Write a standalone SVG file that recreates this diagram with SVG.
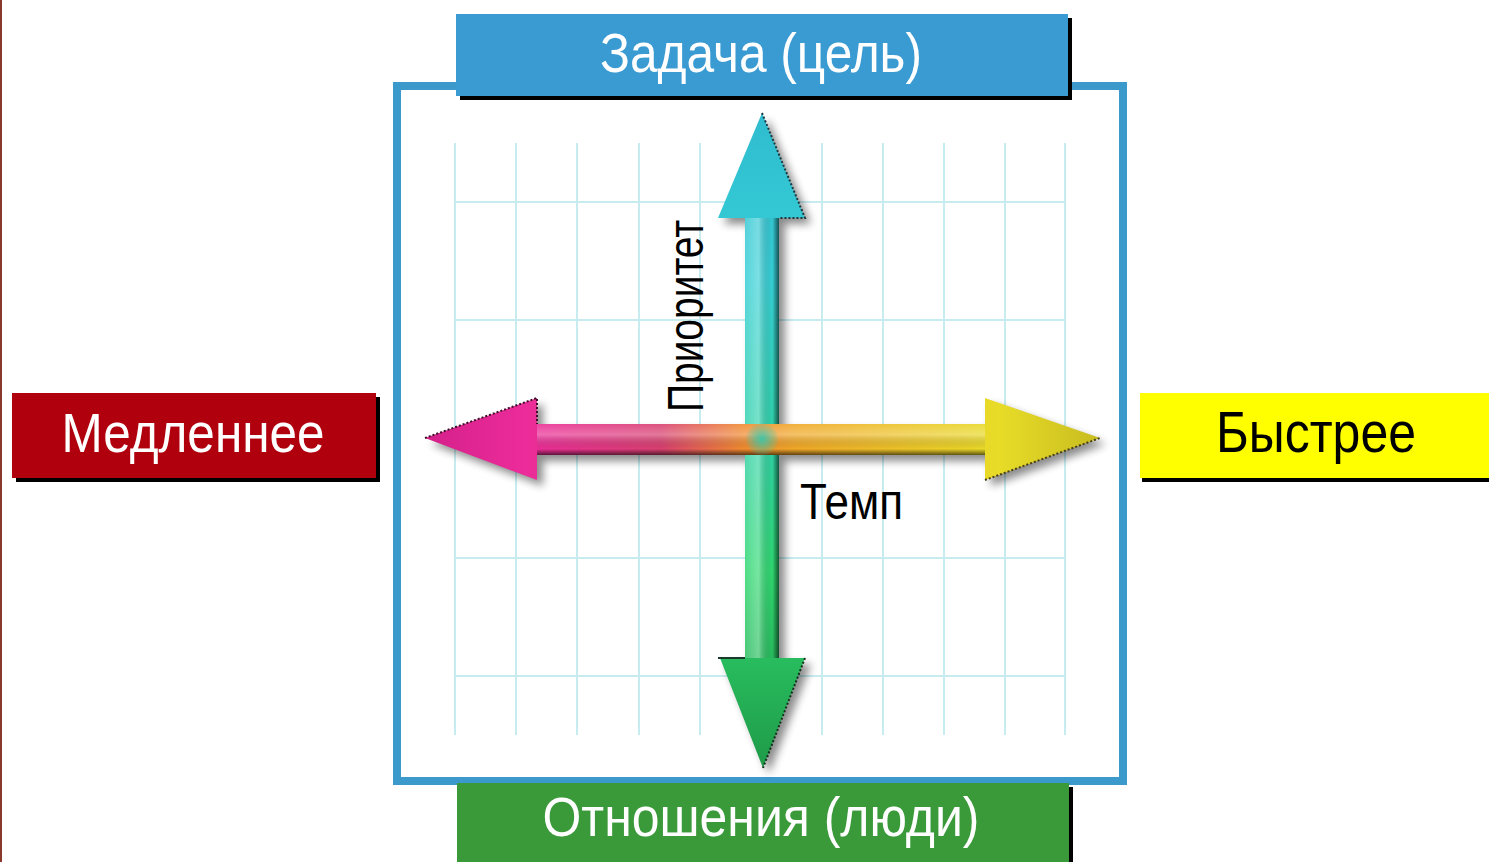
<svg xmlns="http://www.w3.org/2000/svg" width="1489" height="862" viewBox="0 0 1489 862">
<style>
.lbl{font-family:"Liberation Sans","DejaVu Sans",sans-serif;}
.grid line{stroke:#c6ecf0;stroke-width:2;}
.shadow{fill:#000;}
</style>
<defs>
<linearGradient id="gv" x1="0" y1="113" x2="0" y2="768" gradientUnits="userSpaceOnUse">
<stop offset="0" stop-color="#2fbcd0"/>
<stop offset="0.25" stop-color="#36cfd6"/>
<stop offset="0.5" stop-color="#30d2a8"/>
<stop offset="0.7" stop-color="#2fd870"/>
<stop offset="1" stop-color="#1f9a48"/>
</linearGradient>
<linearGradient id="gh" x1="425" y1="0" x2="1100" y2="0" gradientUnits="userSpaceOnUse">
<stop offset="0" stop-color="#d4208a"/>
<stop offset="0.15" stop-color="#ec2c9a"/>
<stop offset="0.35" stop-color="#d84070"/>
<stop offset="0.47" stop-color="#f08a30"/>
<stop offset="0.55" stop-color="#f0a828"/>
<stop offset="0.85" stop-color="#e8dc28"/>
<stop offset="1" stop-color="#c8bc20"/>
</linearGradient>
<linearGradient id="shaftShade" x1="745" y1="0" x2="779" y2="0" gradientUnits="userSpaceOnUse">
<stop offset="0" stop-color="#fff" stop-opacity="0.15"/>
<stop offset="0.4" stop-color="#fff" stop-opacity="0.35"/>
<stop offset="0.8" stop-color="#000" stop-opacity="0"/>
<stop offset="1" stop-color="#000" stop-opacity="0.6"/>
</linearGradient>
<linearGradient id="hShade" x1="0" y1="424" x2="0" y2="455" gradientUnits="userSpaceOnUse">
<stop offset="0" stop-color="#fff" stop-opacity="0.1"/>
<stop offset="0.35" stop-color="#fff" stop-opacity="0.3"/>
<stop offset="0.8" stop-color="#000" stop-opacity="0"/>
<stop offset="1" stop-color="#000" stop-opacity="0.6"/>
</linearGradient>
<radialGradient id="cross" cx="762" cy="439" r="18" gradientUnits="userSpaceOnUse">
<stop offset="0" stop-color="#30c8b0" stop-opacity="0.9"/>
<stop offset="1" stop-color="#30c8b0" stop-opacity="0"/>
</radialGradient>
<filter id="blur" x="-10%" y="-10%" width="120%" height="120%">
<feGaussianBlur stdDeviation="4"/>
</filter>
</defs>
<rect x="0" y="0" width="1489" height="862" fill="#ffffff"/>
<line x1="1" y1="0" x2="1" y2="862" stroke="#8a3a2a" stroke-width="2"/>

<g id="frame">
<rect x="397" y="86" width="726" height="695" fill="#ffffff" stroke="#3b99cc" stroke-width="8"/>
</g>

<g id="grid" class="grid">
<line x1="455" y1="143" x2="455" y2="735"/>
<line x1="516" y1="143" x2="516" y2="735"/>
<line x1="577" y1="143" x2="577" y2="735"/>
<line x1="639" y1="143" x2="639" y2="735"/>
<line x1="700" y1="143" x2="700" y2="735"/>
<line x1="822" y1="143" x2="822" y2="735"/>
<line x1="883" y1="143" x2="883" y2="735"/>
<line x1="944" y1="143" x2="944" y2="735"/>
<line x1="1005" y1="143" x2="1005" y2="735"/>
<line x1="1065" y1="143" x2="1065" y2="735"/>
<line x1="455" y1="202" x2="1065" y2="202"/>
<line x1="455" y1="320" x2="1065" y2="320"/>
<line x1="455" y1="558" x2="1065" y2="558"/>
<line x1="455" y1="676" x2="1065" y2="676"/>
</g>

<g id="node-top">
<rect x="460" y="18" width="612" height="82" class="shadow"/>
<rect x="456" y="14" width="612" height="82" fill="#3a9ad2"/>
<text class="lbl" x="761" y="72" font-size="56" fill="#ffffff" text-anchor="middle" textLength="322" lengthAdjust="spacingAndGlyphs">Задача (цель)</text>
</g>

<g id="node-bottom">
<rect x="461" y="787" width="612" height="80" class="shadow"/>
<rect x="457" y="783" width="612" height="80" fill="#3a9a3a"/>
<text class="lbl" x="761" y="836" font-size="56" fill="#ffffff" text-anchor="middle" textLength="437" lengthAdjust="spacingAndGlyphs">Отношения (люди)</text>
</g>

<g id="node-left">
<rect x="16" y="397" width="364" height="85" class="shadow"/>
<rect x="12" y="393" width="364" height="85" fill="#b0000e"/>
<text class="lbl" x="193" y="452" font-size="56" fill="#ffffff" text-anchor="middle" textLength="263" lengthAdjust="spacingAndGlyphs">Медленнее</text>
</g>

<g id="node-right">
<rect x="1142" y="397" width="347" height="85" class="shadow"/>
<rect x="1140" y="393" width="349" height="85" fill="#ffff00"/>
<text class="lbl" x="1316" y="452" font-size="58" fill="#000000" text-anchor="middle" textLength="200" lengthAdjust="spacingAndGlyphs">Быстрее</text>
</g>

<g id="connectors">
<g filter="url(#blur)" opacity="0.45" transform="translate(6,6)">
<polygon points="425,438 537,398 537,424 985,424 985,398 1100,438 985,480 985,455 537,455 537,480" fill="#000"/>
<polygon points="762,113 805,218 779,218 779,658 805,658 763,768 720,658 745,658 745,218 718,218" fill="#000"/>
</g>
<polygon points="762,113 805,218 779,218 779,658 805,658 763,768 720,658 745,658 745,218 718,218" fill="url(#gv)"/>
<rect x="745" y="218" width="34" height="440" fill="url(#shaftShade)"/>
<polygon points="425,438 537,398 537,424 985,424 985,398 1100,438 985,480 985,455 537,455 537,480" fill="url(#gh)"/>
<rect x="537" y="424" width="448" height="31" fill="url(#hShade)"/>
<ellipse cx="762" cy="439" rx="16" ry="16" fill="url(#cross)"/>
<polyline points="762,113 805,218 779,218" fill="none" stroke="#1a3a40" stroke-width="2" stroke-dasharray="2,2"/>
<polyline points="718,658 745,658" fill="none" stroke="#1a3a2a" stroke-width="2"/>
<polyline points="805,658 763,768" fill="none" stroke="#14301c" stroke-width="2" stroke-dasharray="2,2"/>
<polyline points="985,480 1100,438" fill="none" stroke="#4a4010" stroke-width="2" stroke-dasharray="2,2"/>
<polyline points="425,438 537,398 537,424" fill="none" stroke="#401028" stroke-width="2" stroke-dasharray="2,2"/>
</g>

<g id="label-priority">
<text class="lbl" transform="translate(703,316) rotate(-90)" font-size="50" fill="#000000" text-anchor="middle" textLength="192" lengthAdjust="spacingAndGlyphs">Приоритет</text>
</g>
<g id="label-tempo">
<text class="lbl" x="800" y="519" font-size="50" fill="#000000" textLength="103" lengthAdjust="spacingAndGlyphs">Темп</text>
</g>
</svg>
